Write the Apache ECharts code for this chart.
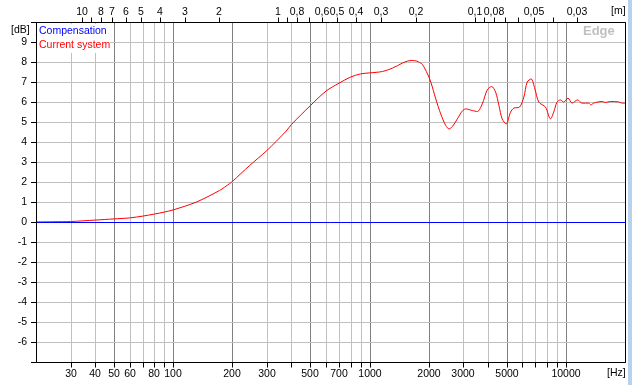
<!DOCTYPE html>
<html><head><meta charset="utf-8">
<script src="https://cdn.jsdelivr.net/npm/echarts@6/dist/echarts.min.js"></script>
<style>html,body{margin:0;padding:0;background:#fff}#c{width:632px;height:385px}</style>
</head><body><div id="c"></div>
<script>
// ---- data ----
const freqs = [20, 25, 30, 40, 50, 60, 70, 80, 90, 100, 131, 172, 194, 200, 245, 300, 376, 400, 500, 600, 700, 800, 900, 1000, 1164, 1308, 1470, 1560, 1650, 1740, 1800, 1859, 1973, 2051, 2174, 2304, 2443, 2540, 2642, 2800, 2966, 3085, 3335, 3540, 3750, 3975, 4187, 4385, 4560, 4735, 4966, 5225, 5433, 5805, 6107, 6350, 6650, 6950, 7280, 7870, 8345, 8670, 9015, 9380, 9750, 10250, 10750, 11480, 12080, 13060, 13420, 13850, 15270, 15880, 16830, 18570, 19280, 20000];
const currentDb = [0.03, 0.04, 0.05, 0.12, 0.18, 0.23, 0.32, 0.42, 0.52, 0.63, 1.02, 1.6, 1.95, 2.05, 2.85, 3.6, 4.57, 4.9, 5.85, 6.57, 6.97, 7.27, 7.43, 7.48, 7.55, 7.72, 7.97, 8.07, 8.1, 8.07, 8.0, 7.9, 7.43, 7.02, 6.18, 5.43, 4.85, 4.68, 4.8, 5.18, 5.57, 5.68, 5.6, 5.55, 5.93, 6.63, 6.8, 6.52, 5.85, 5.18, 4.93, 5.52, 5.72, 5.77, 6.27, 7.02, 7.18, 6.68, 6.02, 5.77, 5.18, 5.52, 6.02, 6.13, 6.02, 6.22, 5.97, 6.13, 5.97, 5.97, 5.88, 5.97, 6.05, 6.0, 6.05, 6.03, 5.97, 5.97];
const compFreqs = [20, 20000];
const compDb = [0, 0];
const majorGridFreqs = [50, 100, 200, 500, 1000, 2000, 5000, 10000];
const minorGridFreqs = [30, 40, 60, 70, 80, 90, 300, 400, 600, 700, 800, 900, 3000, 4000, 6000, 7000, 8000, 9000];
const bottomTickFreqs = [30, 40, 50, 60, 70, 80, 90, 100, 200, 300, 400, 500, 600, 700, 800, 900, 1000, 2000, 3000, 4000, 5000, 6000, 7000, 8000, 9000, 10000];
const bottomLabelFreqs = [30, 40, 50, 60, 80, 100, 200, 300, 500, 700, 1000, 2000, 3000, 5000, 10000];
const topTickWavelengths = [10, 9, 8, 7, 6, 5, 4, 3, 2, 1, 0.9, 0.8, 0.7, 0.6, 0.5, 0.4, 0.3, 0.2, 0.1, 0.09, 0.08, 0.07, 0.06, 0.05, 0.04, 0.03];
const topLabelWavelengths = [10, 8, 7, 6, 5, 4, 3, 2, 1, 0.8, 0.6, 0.5, 0.4, 0.3, 0.2, 0.1, 0.08, 0.05, 0.03];
const seriesNames = ['Compensation', 'Current system'];
const SOUND_SPEED = 343;
const X_MIN = 20, X_MAX = 20000, Y_MIN = -7, Y_MAX = 10;

// ---- chart ----
const FONT = '10.5px "Liberation Sans", Arial, sans-serif';
const chart = echarts.init(document.getElementById('c'), null, {renderer: 'canvas'});

function vline(params, api) {
  const f = api.value(0);
  const p1 = api.coord([f, Y_MIN]);
  const p2 = api.coord([f, Y_MAX]);
  const x = Math.round(p1[0]) + 0.5;
  return {type: 'line', shape: {x1: x, y1: p1[1], x2: x, y2: p2[1]},
    style: {stroke: api.value(1) ? '#808080' : '#c0c0c0', lineWidth: 1}};
}
function tick(dir, yv) {
  return function (params, api) {
    const p = api.coord([api.value(0), yv]);
    const x = Math.round(p[0]) + 0.5;
    return {type: 'line', shape: {x1: x, y1: p[1], x2: x, y2: p[1] + dir * 5},
      style: {stroke: '#000', lineWidth: 1}};
  };
}
function label(dy, yv, texts) {
  return function (params, api) {
    const p = api.coord([api.value(0), yv]);
    return {type: 'text', style: {text: texts[params.dataIndex], x: Math.round(p[0]), y: p[1] + dy,
      align: 'center', verticalAlign: 'middle', font: FONT, fill: '#000'}};
  };
}

const gridData = majorGridFreqs.map(f => [f, 1]).concat(minorGridFreqs.map(f => [f, 0]));
const topTickFreqs = topTickWavelengths.map(w => SOUND_SPEED / w);
const topLabelFreqs = topLabelWavelengths.map(w => SOUND_SPEED / w);
const topTexts = topLabelWavelengths.map(w => String(w).replace('.', ','));
const bottomTexts = bottomLabelFreqs.map(f => String(f));

const option = {
  animation: false,
  backgroundColor: '#fff',
  textStyle: {fontFamily: '"Liberation Sans", Arial, sans-serif'},
  grid: {left: 36, right: 7, top: 22.5, bottom: 22.5, show: false},
  legend: {
    left: 34, top: 24, orient: 'vertical', icon: 'none', itemWidth: 0, itemHeight: 13, itemGap: 2,
    padding: [1, 0, 2, 0], backgroundColor: '#fff', z: 4,
    itemStyle: {opacity: 0}, lineStyle: {opacity: 0, width: 0},
    data: [
      {name: seriesNames[0], textStyle: {color: '#0000ff'}},
      {name: seriesNames[1], textStyle: {color: '#ff0000'}}
    ],
    textStyle: {fontSize: 10.5, fontFamily: '"Liberation Sans", Arial, sans-serif'},
    selectedMode: false
  },
  xAxis: [
    {type: 'log', logBase: 10, min: X_MIN, max: X_MAX, position: 'bottom', z: 10,
      axisLine: {show: true, onZero: false, lineStyle: {color: '#000', width: 1}},
      axisTick: {show: false}, axisLabel: {show: false}, splitLine: {show: false}},
    {type: 'log', logBase: 10, min: X_MIN, max: X_MAX, position: 'top', z: 10,
      axisLine: {show: true, onZero: false, lineStyle: {color: '#000', width: 1}},
      axisTick: {show: false}, axisLabel: {show: false}, splitLine: {show: false}}
  ],
  yAxis: [
    {type: 'value', min: Y_MIN, max: Y_MAX, interval: 1, position: 'left', z: 10,
      axisLine: {show: true, onZero: false, lineStyle: {color: '#000', width: 1}},
      axisTick: {show: true, inside: false, length: 5, lineStyle: {color: '#000'}},
      axisLabel: {margin: 9, color: '#000', fontSize: 10.5,
        formatter: v => (v === Y_MIN || v === Y_MAX) ? '' : String(v)},
      splitLine: {show: false}},
    {type: 'value', min: Y_MIN, max: Y_MAX, interval: 1, position: 'right', z: 2,
      axisLine: {show: true, onZero: false, lineStyle: {color: '#000', width: 1}},
      axisTick: {show: false}, axisLabel: {show: false},
      splitLine: {show: true, lineStyle: {color: '#c0c0c0', width: 1}}}
  ],
  series: [
    {type: 'custom', name: 'vgrid', z: 1, silent: true, data: gridData, renderItem: vline,
      encode: {x: 0}, clip: false},
    {type: 'custom', name: 'btick', z: 6, silent: true, clip: false, data: bottomTickFreqs.map(f => [f]),
      encode: {x: 0}, renderItem: tick(1, Y_MIN)},
    {type: 'custom', name: 'blabel', z: 6, silent: true, clip: false, data: bottomLabelFreqs.map(f => [f]),
      encode: {x: 0}, renderItem: label(12, Y_MIN, bottomTexts)},
    {type: 'custom', name: 'ttick', z: 6, silent: true, clip: false, data: topTickFreqs.map(f => [f]),
      encode: {x: 0}, renderItem: tick(-1, Y_MAX)},
    {type: 'custom', name: 'tlabel', z: 6, silent: true, clip: false, data: topLabelFreqs.map(f => [f]),
      encode: {x: 0}, renderItem: label(-10, Y_MAX, topTexts)},
    {type: 'line', name: seriesNames[1], z: 3, showSymbol: false, smooth: 0.3,
      data: freqs.map((f, i) => [f, currentDb[i]]),
      lineStyle: {color: '#ff0000', width: 1}, itemStyle: {color: '#ff0000'}},
    {type: 'line', name: seriesNames[0], z: 3.5, showSymbol: false,
      data: compFreqs.map((f, i) => [f, compDb[i]]),
      lineStyle: {color: '#0000ff', width: 1}, itemStyle: {color: '#0000ff'}}
  ],
  graphic: [
    {type: 'text', left: 11, top: 25, style: {text: '[dB]', font: FONT, fill: '#000'}},
    {type: 'text', left: 607, top: 368, style: {text: '[Hz]', font: FONT, fill: '#000'}},
    {type: 'text', left: 611, top: 6, style: {text: '[m]', font: FONT, fill: '#000'}},
    {type: 'text', left: 583, top: 25, style: {text: 'Edge', font: 'bold 13px "Liberation Sans", Arial, sans-serif', fill: '#c0c0c0'}},
    {type: 'rect', left: 628, top: 0, shape: {width: 4, height: 385}, style: {fill: '#b9d1ea'}}
  ]
};
chart.setOption(option);
</script></body></html>
